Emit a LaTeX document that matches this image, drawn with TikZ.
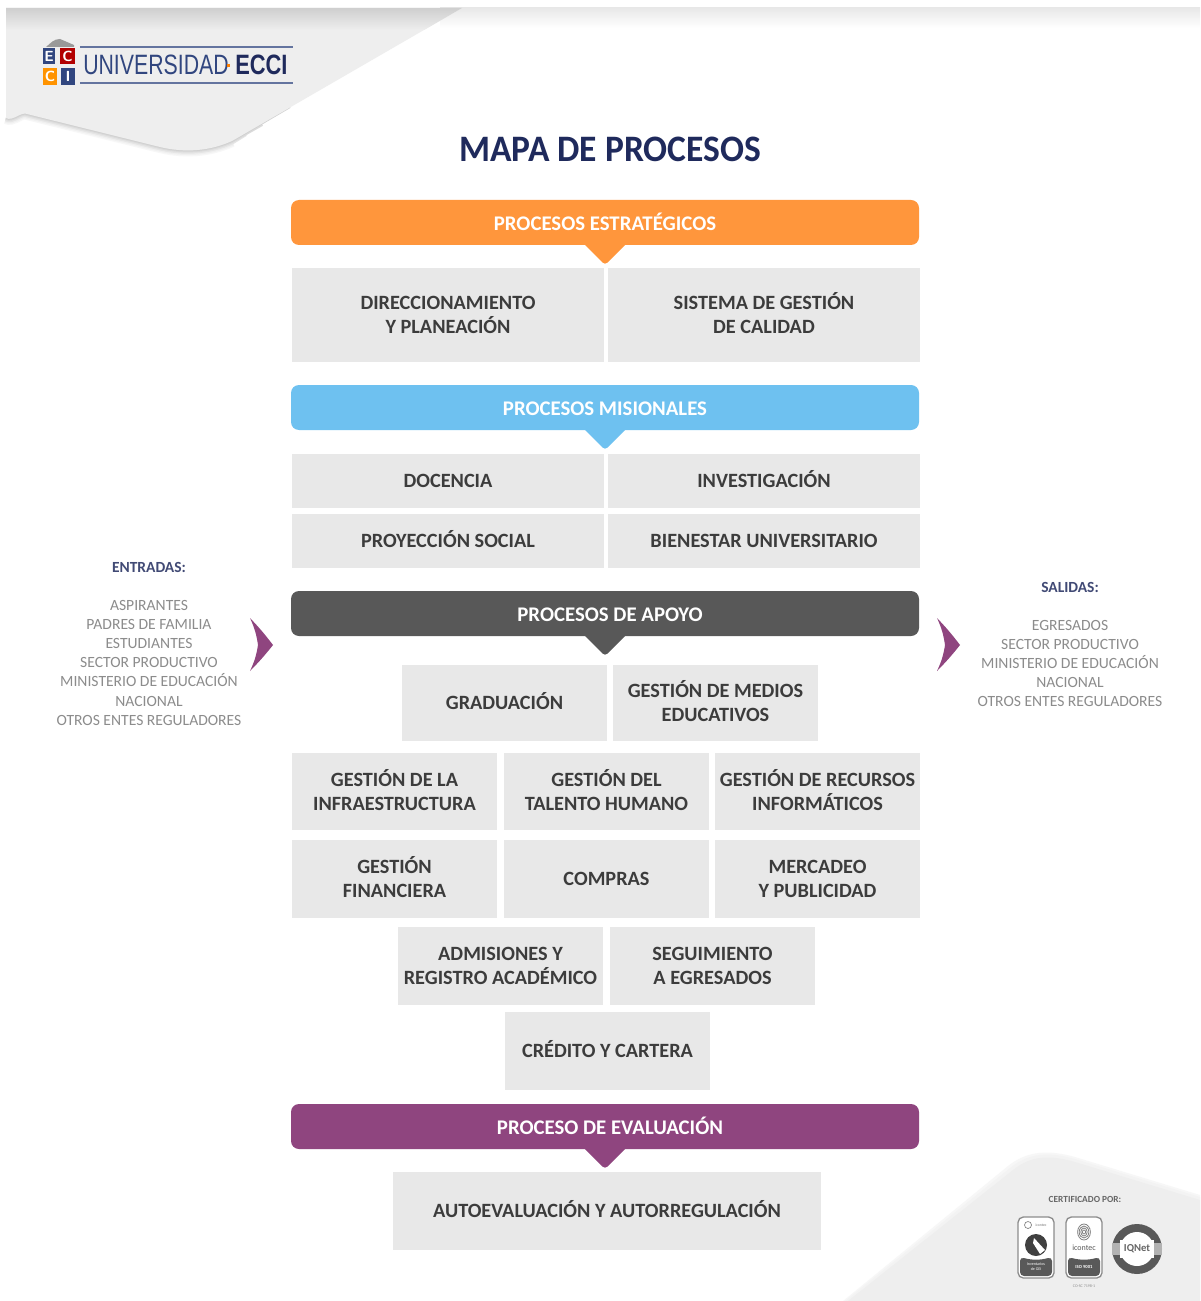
\documentclass[tikz,border=0pt]{standalone}
\usepackage{fontspec}
\usepackage{graphicx}
\setmainfont{Carlito}
\usetikzlibrary{shadings}
\definecolor{cOrange}{HTML}{FF963C}
\definecolor{cBlue}{HTML}{6EC1F0}
\definecolor{cDark}{HTML}{585858}
\definecolor{cPurple}{HTML}{8F457F}
\definecolor{cBox}{HTML}{E8E8E8}
\definecolor{cBoxText}{HTML}{3C3C3C}
\definecolor{cNavy}{HTML}{1F2A5C}
\definecolor{cLogo}{HTML}{31467F}
\definecolor{cSide}{HTML}{8C8C8C}
\definecolor{cBack}{HTML}{EEEEEE}
\tikzset{
 boxnode/.style={fill=cBox,draw=none,inner sep=0pt,align=center,text=cBoxText,
   font=\fontsize{15.2}{18}\selectfont\bfseries},
 bandtext/.style={text=white,inner sep=0pt,text height=12pt,text depth=3pt,font=\fontsize{15.6}{19}\selectfont\bfseries},
 sidetitle/.style={text=cNavy!85!white,inner sep=0pt,font=\fontsize{11.6}{14}\selectfont\bfseries},
 sidetext/.style={text=cSide,inner sep=0pt,align=center,font=\fontsize{11.7}{14.35}\selectfont},
 logoletter/.style={text=white,inner sep=0pt,font=\fontsize{11}{11}\selectfont\bfseries\sffamily},
}
% #1 name, #2 left, #3 top, #4 right, #5 bottom, #6 text
\newcommand{\procbox}[6]{%
  \node[boxnode,minimum width={(#4-#2)*0.75pt},minimum height={(#5-#3)*0.75pt}] (#1) at ({(#2+#4)/2},{(#3+#5)/2}) {\rule{0pt}{13pt}#6\rule[-3pt]{0pt}{3pt}};}
% #1 name, #2 colour, #3 top, #4 text, #5 text x
\newcommand{\procband}[5]{%
  \fill[#2,rounded corners=6pt] (291,#3) -- (919,#3) -- (919,#3+45) -- (291,#3+45) -- cycle;
  \fill[#2,rounded corners=2.5pt] (580,#3+40) -- (605,#3+65) -- (630,#3+40) -- cycle;
  \node[bandtext] (#1) at (#5,#3+24.5) {#4};}
\newcommand{\sheetedge}{(6,118) to[out=-25,in=185] (25,113.5) -- (160,147) .. controls (185,153) and (210,151) .. (232,141)}
\begin{document}
\begin{tikzpicture}[x=0.75pt,y=-0.75pt]
\useasboundingbox (0,0) rectangle (1200,1301);
\fill[white] (0,0) rectangle (1200,1301);
% top strip on the right
\shade[top color=black!9,bottom color=white] (440,8) rectangle (1200,28);
% top-left sheet: soft shadow then sheet
\draw[black!3,line width=9pt] \sheetedge;
\draw[black!6,line width=7pt] \sheetedge;
\draw[black!10,line width=5pt] \sheetedge -- (245,133);
\draw[black!14,line width=3pt] \sheetedge -- (262,124);
\draw[black!18,line width=1.5pt] \sheetedge -- (290,107);
\fill[cBack] (6,8) -- (462,8) -- (232,141) .. controls (210,151) and (185,153) .. (160,147) -- (25,113.5) to[out=185,in=-25] (6,118) -- cycle;
\shade[top color=black!19,bottom color=cBack] (6,8) -- (462,8) -- (424,30) -- (6,30) -- cycle;
% bottom-right sheet
\fill[black!3] (843,1301) -- (1008,1166) .. controls (1028,1150) and (1050,1150) .. (1075,1157) -- (1200,1195) -- (1200,1301) -- cycle;
\fill[cBack!70!white] (845,1301) -- (1010,1168) .. controls (1030,1152) and (1050,1152) .. (1075,1159) -- (1200,1197) -- (1200,1301) -- cycle;
\fill[cBack] (848,1301) -- (1013,1170) .. controls (1032,1155) and (1050,1155) .. (1075,1162) -- (1200,1200) -- (1200,1301) -- cycle;
% logo
\fill[black!40] (46,47) to[out=40,in=180] (60,39) -- (74,45) -- (74,47) -- cycle;
\fill[cLogo] (43,48) rectangle (55,64);
\fill[red!70!black] (60,48) rectangle (75,64);
\fill[orange!85!yellow] (43,68) rectangle (57,85);
\fill[cLogo] (61,68) rectangle (75,85);
\node[logoletter] (lE) at (49,56) {E};
\node[logoletter] (lC) at (67.5,56) {C};
\node[logoletter] (lCb) at (50,76.5) {C};
\node[logoletter] (lI) at (68,76.5) {I};
\draw[cLogo!75!white,line width=0.9pt] (80,47) -- (293,47);
\draw[cLogo!75!white,line width=0.9pt] (80,83) -- (293,83);
\node[anchor=base west,inner sep=0pt,text=cLogo,font=\fontspec{Liberation Sans}\fontsize{21}{22}\selectfont] (logoA) at (83,75) {\scalebox{0.76}[1]{UNIVERSIDAD}};
\fill[orange] (227,64) rectangle (230,67);
\node[anchor=base west,inner sep=0pt,text=cNavy,font=\fontspec{Liberation Sans}\fontsize{21}{22}\selectfont\bfseries] (logoB) at (235,75) {\scalebox{0.78}[1]{ECCI}};
% title
\node[inner sep=0pt,text=cNavy,font=\fontsize{28}{32}\selectfont\bfseries] (title) at (610,149) {\scalebox{0.95}[1]{MAPA DE PROCESOS}};
% bands and boxes
\procband{est}{cOrange}{200}{PROCESOS ESTRATÉGICOS}{605}
\procbox{dir}{292}{268}{604}{362}{DIRECCIONAMIENTO\\Y PLANEACIÓN}
\procbox{sis}{608}{268}{920}{362}{SISTEMA DE GESTIÓN\\DE CALIDAD}
\procband{mis}{cBlue}{385}{PROCESOS MISIONALES}{605}
\procbox{doc}{292}{454}{604}{508}{DOCENCIA}
\procbox{inv}{608}{454}{920}{508}{INVESTIGACIÓN}
\procbox{pro}{292}{514}{604}{568}{PROYECCIÓN SOCIAL}
\procbox{bie}{608}{514}{920}{568}{BIENESTAR UNIVERSITARIO}
\procband{apo}{cDark}{591}{PROCESOS DE APOYO}{610}
\procbox{gra}{402}{665}{607}{741}{GRADUACIÓN}
\procbox{med}{613}{665}{818}{741}{GESTIÓN DE MEDIOS\\EDUCATIVOS}
\procbox{inf}{292}{753}{497}{830}{GESTIÓN DE LA\\INFRAESTRUCTURA}
\procbox{tal}{504}{753}{709}{830}{GESTIÓN DEL\\TALENTO HUMANO}
\procbox{rec}{715}{753}{920}{830}{GESTIÓN DE RECURSOS\\INFORMÁTICOS}
\procbox{fin}{292}{840}{497}{918}{GESTIÓN\\FINANCIERA}
\procbox{com}{504}{840}{709}{918}{COMPRAS}
\procbox{mer}{715}{840}{920}{918}{MERCADEO\\Y PUBLICIDAD}
\procbox{adm}{398}{927}{603}{1005}{ADMISIONES Y\\REGISTRO ACADÉMICO}
\procbox{seg}{610}{927}{815}{1005}{SEGUIMIENTO\\A EGRESADOS}
\procbox{cre}{505}{1012}{710}{1090}{CRÉDITO Y CARTERA}
\procband{eva}{cPurple}{1104}{PROCESO DE EVALUACIÓN}{610}
\procbox{aut}{393}{1172}{821}{1250}{AUTOEVALUACIÓN Y AUTORREGULACIÓN}
% entradas
\node[sidetitle] (ent) at (149,567) {ENTRADAS:};
\node[sidetext,anchor=north] (entl) at (149,600) {ASPIRANTES\\PADRES DE FAMILIA\\ESTUDIANTES\\SECTOR PRODUCTIVO\\MINISTERIO DE EDUCACIÓN\\NACIONAL\\OTROS ENTES REGULADORES};
\fill[cPurple] (250,618) to[bend left=3] (273,645) to[bend left=3] (250,671) to[bend right=8] (258,645) to[bend right=8] cycle;
% salidas
\node[sidetitle] (sal) at (1070,587) {SALIDAS:};
\node[sidetext,anchor=north] (sall) at (1070,620) {EGRESADOS\\SECTOR PRODUCTIVO\\MINISTERIO DE EDUCACIÓN\\NACIONAL\\OTROS ENTES REGULADORES};
\fill[cPurple] (937,618) to[bend left=3] (960,645) to[bend left=3] (937,671) to[bend right=8] (945,645) to[bend right=8] cycle;
% certificates
\node[inner sep=0pt,text=black!60,font=\fontsize{7}{8}\selectfont\bfseries] (cert) at (1085,1199) {CERTIFICADO POR:};
\filldraw[fill=white,draw=black!45,line width=1pt,rounded corners=4pt] (1018,1217) rectangle (1054,1278);
\fill[black!65,rounded corners=3pt] (1020,1257) to[out=-15,in=195] (1052,1257) -- (1052,1276) -- (1020,1276) -- cycle;
\draw[black!50,line width=0.5pt] (1028,1225) circle (3.5);
\node[inner sep=0pt,text=black!55,font=\fontsize{2.8}{3}\selectfont] (ic1) at (1041,1225) {icontec};
\fill[black!75] (1036,1245) circle (11);
\fill[white] (1034,1238) -- (1045,1250) -- (1040,1254) -- (1033,1243) -- cycle;
\node[inner sep=0pt,align=center,text=white,font=\fontsize{3}{3.6}\selectfont] (gei) at (1036,1267) {Inventarios\\de GEI};
\filldraw[fill=white,draw=black!45,line width=1pt,rounded corners=4pt] (1066,1217) rectangle (1102,1278);
\fill[black!65,rounded corners=3pt] (1068,1257) to[out=-15,in=195] (1100,1257) -- (1100,1276) -- (1068,1276) -- cycle;
\foreach \r in {2,4,6,8}{\draw[black!50,line width=0.6pt] (1084,1232) ellipse ({\r*0.8} and \r);}
\node[inner sep=0pt,text=black!65,font=\fontsize{6}{6}\selectfont] (ic2) at (1084,1248) {icontec};
\node[inner sep=0pt,text=white,font=\fontsize{3.5}{4}\selectfont\bfseries] (iso) at (1084,1267) {ISO 9001};
\node[inner sep=0pt,text=black!45,font=\fontsize{3}{4}\selectfont] (cosc) at (1084,1286) {CO-SC 7198-1};
\fill[black!65] (1137,1249) circle (25);
\fill[white] (1137,1249) circle (17);
\fill[black!30] (1112,1243) rectangle (1162,1255);
\fill[white] (1120,1240) rectangle (1154,1258);
\node[inner sep=0pt,text=black!60,font=\fontsize{8}{8}\selectfont\bfseries] (iq) at (1137,1249) {IQNet};
\end{tikzpicture}
\end{document}
